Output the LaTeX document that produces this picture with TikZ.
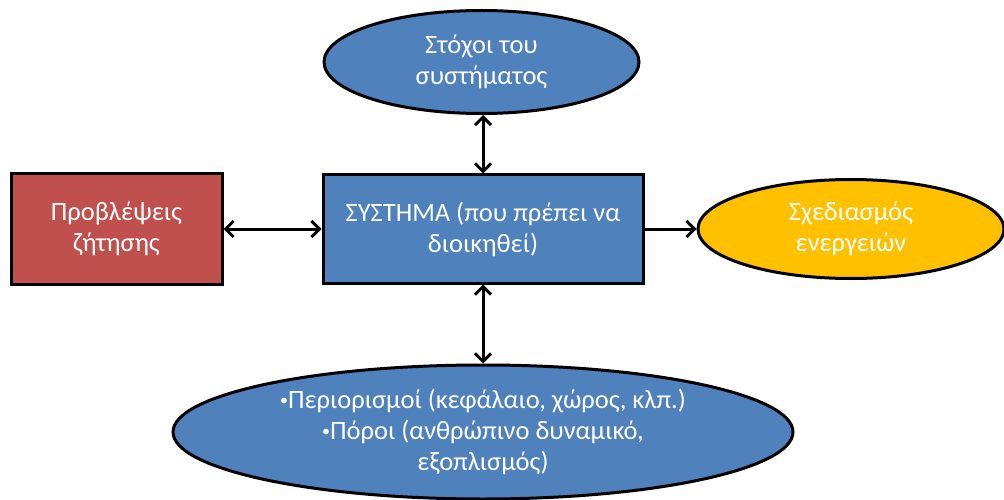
\documentclass[tikz,border=0pt]{standalone}
\usepackage{fontspec}
\setmainfont{Carlito}
\usetikzlibrary{arrows.meta}
\usetikzlibrary{shapes.geometric}
\definecolor{boxblue}{HTML}{4F81BD}
\definecolor{boxred}{HTML}{C0504D}
\definecolor{boxgold}{HTML}{FFC000}
\def\bul{{\fontsize{16}{16}\selectfont\raisebox{3pt}{•}}}
\tikzset{
  blk/.style={draw=black,line width=3pt,text=white,align=center,
    font=\fontsize{26.5}{31}\selectfont},
  rbox/.style={blk,rectangle,inner sep=0pt},
  ebox/.style={blk,ellipse,inner sep=0pt},
  conn/.style={line width=3pt,draw=black},
  tip/.tip={Straight Barb[length=8pt,width=16pt,line width=3pt]}
}

\begin{document}
\begin{tikzpicture}[x=1pt,y=1pt]
\useasboundingbox (0,0) rectangle (1004,499);
\draw(483,270) node[rbox,fill=boxblue,minimum width=320,minimum height=108] (sys) {ΣΥΣΤΗΜΑ (που πρέπει να\\διοικηθεί)};
\draw(116.5,270) node[rbox,fill=boxred,minimum width=211,minimum height=110] (dem) {Προβλέψεις\\ζήτησης};
\draw(481.5,437) node[ebox,fill=boxblue,minimum width=315,minimum height=103] (goal) {Στόχοι του\\συστήματος};
\draw(851,270) node[ebox,fill=boxgold,minimum width=306,minimum height=99] (plan) {Σχεδιασμός\\ενεργειών};
\draw(483,67) node[ebox,fill=boxblue,minimum width=620,minimum height=134] (res) {\bul Περιορισμοί (κεφάλαιο, χώρος, κλπ.)\\\bul Πόροι (ανθρώπινο δυναμικό,\\εξοπλισμός)};
% connectors
\draw[conn,{tip}-{tip}] (dem) -- (sys);
\draw[conn,-{tip}] (sys) -- (plan);
\draw[conn,{tip}-{tip}] (goal.south -| sys.north) -- (sys.north);
\draw[conn,{tip}-{tip}] (sys.south) -- (res.north -| sys.south);
\end{tikzpicture}
\end{document}
